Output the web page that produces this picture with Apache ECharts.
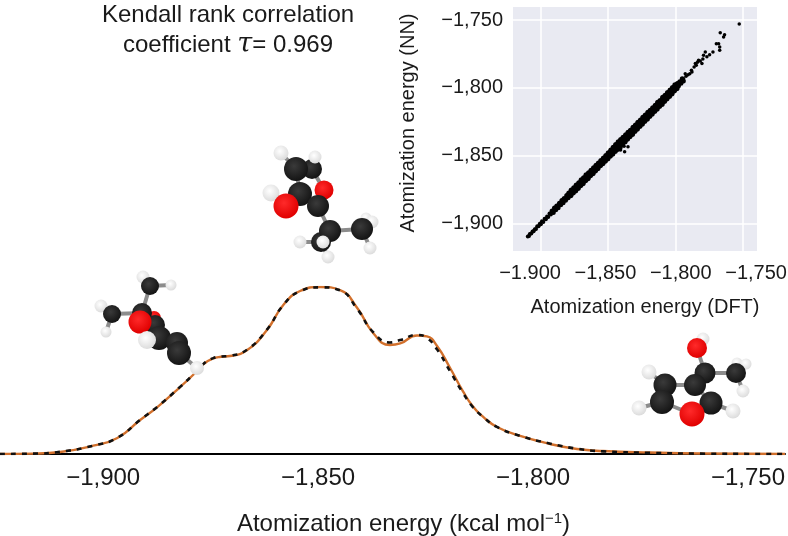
<!DOCTYPE html>
<html>
<head>
<meta charset="utf-8">
<style>html,body{margin:0;padding:0;background:#fff}#c{width:788px;height:536px}</style>
<script src="https://cdn.jsdelivr.net/npm/echarts@6/dist/echarts.min.js"></script>
</head>
<body>
<div id="c"></div>
<script>
// Density curves: x in kcal/mol, y as fraction of the peak
var dftCurve = [[-1924,0],[-1916.3,0.002],[-1910,0.012],[-1902.3,0.05],[-1896.7,0.096],[-1891.4,0.204],[-1887.4,0.281],[-1882.1,0.401],[-1879.1,0.473],[-1876.5,0.542],[-1874.4,0.572],[-1872.6,0.582],[-1870.5,0.587],[-1866.5,0.623],[-1861.9,0.743],[-1858.1,0.892],[-1854.2,0.976],[-1849.5,1.0],[-1844.9,0.982],[-1840.9,0.874],[-1837.2,0.725],[-1833.3,0.653],[-1830.9,0.662],[-1827,0.71],[-1824.7,0.704],[-1822.3,0.645],[-1819.3,0.515],[-1816.3,0.375],[-1814,0.285],[-1811.6,0.222],[-1808.4,0.162],[-1803,0.108],[-1796,0.06],[-1789.8,0.03],[-1783.7,0.018],[-1772.8,0.009],[-1761,0.003],[-1741.4,0]];
var nnCurve = [[-1924,0],[-1916.3,0.002],[-1910,0.013],[-1902.3,0.05],[-1896.7,0.097],[-1891.4,0.204],[-1887.4,0.283],[-1882.1,0.402],[-1879.1,0.475],[-1876.5,0.544],[-1874.4,0.574],[-1872.6,0.583],[-1870.5,0.588],[-1866.5,0.625],[-1861.9,0.745],[-1858.1,0.892],[-1854.2,0.975],[-1849.5,0.998],[-1844.9,0.98],[-1840.9,0.868],[-1837.2,0.73],[-1833.3,0.668],[-1830.9,0.682],[-1827,0.713],[-1824.7,0.695],[-1822.3,0.625],[-1819.3,0.495],[-1816.3,0.365],[-1814,0.281],[-1811.6,0.222],[-1808.4,0.162],[-1803,0.108],[-1796,0.062],[-1789.8,0.032],[-1783.7,0.016],[-1772.8,0.007],[-1761,0.002],[-1741.4,0]];

var mainTicks = [-1900,-1850,-1800,-1750];
var insetTicks = [-1900,-1850,-1800,-1750];
var insetXLabels = {'-1900':'\u22121.900','-1850':'\u22121,850','-1800':'\u22121,800','-1750':'\u22121,750'};

// Inset scatter, DFT vs NN atomization energy
var bandTail = [[-1909.5,-1909.6],[-1908,-1907.6],[-1906,-1905.8],[-1904.3,-1904.1],[-1902.5,-1902],[-1900.6,-1900.1],[-1899,-1898.2],[-1897,-1896.5],[-1895.2,-1894.7],[-1893.4,-1892.6],[-1908.6,-1909.2],[-1906.9,-1907.3],[-1905.2,-1905.6],[-1903.4,-1903.9],[-1901.5,-1902],[-1899.8,-1900.4],[-1898,-1898.8],[-1896.1,-1896.8],[-1894.3,-1895.1],[-1892.4,-1893.3]];
var bandMid = [[-1891.5,-1890.8],[-1889.7,-1888.6],[-1888,-1887.1],[-1886,-1885],[-1884.2,-1883],[-1882.5,-1881.6],[-1880.6,-1879.3],[-1890.6,-1891.8],[-1888.8,-1889.8],[-1887,-1888.4],[-1885.1,-1886.1],[-1883.3,-1884.6],[-1881.5,-1882.8],[-1879.6,-1880.9],[-1798.4,-1796.8],[-1796.6,-1795.4],[-1794.8,-1793.2],[-1797.6,-1798.4],[-1795.8,-1796.6],[-1794,-1795]];
var bandUpper = [[-1878.8,-1877.8],[-1877,-1875.6],[-1875.1,-1874],[-1873.3,-1872],[-1871.4,-1870.3],[-1869.6,-1868.1],[-1867.8,-1866.6],[-1866,-1864.4],[-1864.1,-1862.9],[-1862.3,-1861],[-1860.4,-1859.2],[-1858.6,-1857.3],[-1856.8,-1855.8],[-1855,-1853.9],[-1853.1,-1852],[-1851.3,-1850.2],[-1849.5,-1848.2],[-1847.6,-1846.2],[-1845.8,-1844.2],[-1844,-1842.1],[-1842.1,-1840.1],[-1840.3,-1838.4],[-1838.5,-1836.8],[-1836.6,-1834.9],[-1834.8,-1833],[-1833,-1831.5],[-1831.1,-1829.3],[-1829.3,-1827.7],[-1827.5,-1825.7],[-1825.6,-1824],[-1823.8,-1822],[-1822,-1820.3],[-1820.1,-1818.4],[-1818.3,-1816.9],[-1816.5,-1815],[-1814.6,-1813.2],[-1812.8,-1811],[-1811,-1809.6],[-1809.1,-1807.3],[-1807.3,-1805.8],[-1805.5,-1803.7],[-1803.6,-1802],[-1801.8,-1800],[-1800,-1798]];
var bandLower = [[-1877.8,-1879.2],[-1876,-1877.1],[-1874.2,-1875.6],[-1872.3,-1873.7],[-1870.5,-1871.7],[-1868.7,-1870.2],[-1866.8,-1868],[-1865,-1866.5],[-1863.2,-1864.4],[-1861.3,-1862.9],[-1859.5,-1860.8],[-1857.7,-1859.2],[-1855.8,-1857.1],[-1854,-1855.6],[-1852.2,-1853.7],[-1850.3,-1852.1],[-1848.5,-1850],[-1846.7,-1848.5],[-1844.8,-1846.6],[-1843,-1845.1],[-1841.2,-1843.6],[-1839.4,-1841.4],[-1837.5,-1839.6],[-1835.7,-1837.4],[-1833.9,-1835.6],[-1832,-1833.9],[-1830.2,-1831.8],[-1828.4,-1830.2],[-1826.5,-1828.1],[-1824.7,-1826.5],[-1822.9,-1824.4],[-1821,-1822.8],[-1819.2,-1820.8],[-1817.4,-1819.1],[-1815.5,-1817.1],[-1813.7,-1815.4],[-1811.9,-1813.4],[-1810,-1811.8],[-1808.2,-1809.6],[-1806.4,-1807.9],[-1804.5,-1805.9],[-1802.7,-1804.2],[-1800.9,-1802],[-1799,-1800.2]];
var sparsePoints = [[-1837.6,-1847],[-1835.1,-1843.4],[-1840.6,-1845.8],[-1838,-1843],[-1793.8,-1793.2],[-1792.6,-1789.5],[-1792,-1791.4],[-1790.5,-1790.4],[-1789.2,-1789.6],[-1788,-1787],[-1787.6,-1788.3],[-1786,-1784.6],[-1785.1,-1782],[-1784.4,-1783.4],[-1783.5,-1781.2],[-1782.7,-1779.7],[-1781.4,-1780.2],[-1780.2,-1782],[-1779.5,-1778.8],[-1779,-1776],[-1777.7,-1773.6],[-1776.5,-1777],[-1774.5,-1775.5],[-1772,-1773.6],[-1769.5,-1767.4],[-1767.8,-1767.4],[-1767,-1769.9],[-1767,-1772.3],[-1764.1,-1762.5],[-1763.4,-1760.8],[-1766.6,-1759.3],[-1752.5,-1753]];

// Molecules, on a full-page scale: [x, y, radius, element], listed back to front
var moleculeTop = [[312,169,10,'C'],[296,169,12,'C'],[281,153,7.5,'H'],[315,157,6.5,'H'],[324,190,9.5,'O'],[271,193,8.5,'H'],[300,194,12,'C'],[286,206,12.5,'O'],[318,206,11,'C'],[366,218,5.5,'H'],[372,222,6.5,'H'],[362,229,11,'C'],[370,248,6.5,'H'],[321,242,10,'C'],[330,231,11,'C'],[300,242,6.5,'H'],[328,257,6.5,'H'],[323,242,6.5,'H']];
var bondsTop = [[296,169,312,169],[312,169,324,190],[296,169,300,194],[324,190,318,206],[300,194,318,206],[300,194,286,206],[281,153,296,169],[315,157,312,169],[271,193,286,206],[318,206,330,231],[330,231,362,229],[330,231,321,242],[362,229,372,222],[362,229,370,248],[321,242,300,242],[321,242,328,257]];
var moleculeLeft = [[154,318,7,'O'],[143,277,6.5,'H'],[171,285,5.5,'H'],[150,286,9,'C'],[101,306,6.5,'H'],[106,332,5.5,'H'],[112,314,9,'C'],[142,313,10,'C'],[155,325,10,'C'],[140,322,11.5,'O'],[159,338,12,'C'],[147,340,9,'H'],[197,368,7,'H'],[177,343,11,'C'],[179,353,12,'C']];
var bondsLeft = [[150,286,142,313],[112,314,142,313],[150,286,143,277],[150,286,171,285],[112,314,101,306],[112,314,106,332],[155,325,159,338],[159,338,177,343],[179,353,197,368],[140,322,147,340]];
var moleculeRight = [[703,339,6.5,'H'],[737,363,5.5,'H'],[746,364,5.5,'H'],[736,373,10,'C'],[743,391,6.5,'H'],[697,348,10,'O'],[705,373,10.5,'C'],[649,372,7.5,'H'],[639,408,7.5,'H'],[733,411,7.5,'H'],[665,385,11.5,'C'],[662,402,12,'C'],[695,385,11,'C'],[711,403,11.5,'C'],[692,414,12.5,'O']];
var bondsRight = [[703,339,697,348],[697,348,705,373],[705,373,736,373],[736,373,746,364],[736,373,737,363],[736,373,743,391],[705,373,695,385],[695,385,665,385],[665,385,662,402],[665,385,649,372],[662,402,639,408],[662,402,692,414],[692,414,711,403],[711,403,695,385],[711,403,733,411]];

var FONT = '"Liberation Sans", Arial, sans-serif';
var atomColors = {C:['#3a3a3a','#141414'],O:['#ff2a2a','#e00000'],H:['#ffffff','#dcdcdc']};
function atomFill(el){
  return {type:'radial',x:0.42,y:0.38,r:0.62,colorStops:[{offset:0,color:atomColors[el][0]},{offset:1,color:atomColors[el][1]}]};
}
function fmt(v){
  var a = Math.abs(v);
  return '\u2212' + Math.floor(a/1000) + ',' + String(a%1000).padStart(3,'0');
}
function atomSeries(data){
  return {type:'scatter',xAxisIndex:2,yAxisIndex:2,silent:true,z:6,animation:false,data:data,
    symbolSize:function(d){return d[2]*2;},
    itemStyle:{opacity:1,color:function(p){return atomFill(p.data[3]);}}};
}
function bondSeries(data){
  return {type:'custom',xAxisIndex:2,yAxisIndex:2,silent:true,z:5,animation:false,data:data,
    renderItem:function(params,api){
      var a = api.coord([api.value(0),api.value(1)]), b = api.coord([api.value(2),api.value(3)]);
      return {type:'line',shape:{x1:a[0],y1:a[1],x2:b[0],y2:b[1]},style:{stroke:'#8c8c8c',lineWidth:4}};
    }};
}
function bandSeries(data,size){
  return {type:'scatter',xAxisIndex:1,yAxisIndex:1,data:data,symbolSize:size,silent:true,z:3,itemStyle:{color:'#000',opacity:1}};
}

var chart = echarts.init(document.getElementById('c'),null,{renderer:'canvas'});
chart.setOption({
  animation:false,
  backgroundColor:'#ffffff',
  textStyle:{fontFamily:FONT},
  title:{
    left:223,top:-5,textAlign:'center',
    text:'{a|Kendall rank correlation}\n{a|coefficient }{t|\u03C4}{a|= 0.969}',
    textStyle:{fontWeight:'normal',rich:{
      a:{fontFamily:FONT,fontWeight:'normal',fontSize:24,color:'#1a1a1a',lineHeight:30},
      t:{fontFamily:'"DejaVu Serif"',fontWeight:'normal',fontStyle:'italic',fontSize:27,color:'#1a1a1a',lineHeight:30}
    }}
  },
  grid:[
    {left:0,right:3,top:287,height:167,outerBoundsMode:'none'},
    {left:513,top:7,width:244,height:244,show:true,backgroundColor:'#e9eaf2',borderWidth:0,outerBoundsMode:'none'},
    {left:0,top:0,width:788,height:536,outerBoundsMode:'none'}
  ],
  xAxis:[
    {type:'value',gridIndex:0,min:-1924,max:-1741.4,
      axisLine:{show:true,onZero:false,lineStyle:{color:'#000',width:2}},
      axisTick:{show:false,customValues:mainTicks},splitLine:{show:false},
      axisLabel:{customValues:mainTicks,formatter:fmt,fontFamily:FONT,fontSize:24,color:'#1a1a1a',margin:12},
      name:'{a|Atomization energy (kcal mol}{s|\u22121}{a|)}',nameLocation:'middle',nameGap:57,
      nameTextStyle:{padding:[0,0,0,22],rich:{
        a:{fontFamily:FONT,fontSize:24,color:'#1a1a1a',lineHeight:26},
        s:{fontFamily:FONT,fontSize:15,color:'#1a1a1a',verticalAlign:'top',lineHeight:26}
      }}},
    {type:'value',gridIndex:1,min:-1920.5,max:-1739.3,
      axisLine:{show:false},
      axisTick:{show:false,customValues:insetTicks},
      splitLine:{show:true,lineStyle:{color:'#ffffff',width:1.5}},
      axisLabel:{show:false},
      name:'Atomization energy (DFT)',nameLocation:'middle',nameGap:46,
      nameTextStyle:{fontFamily:FONT,fontSize:20,color:'#1a1a1a',padding:[0,0,0,20]}},
    {type:'value',gridIndex:2,min:0,max:788,show:false},
    {type:'value',gridIndex:1,position:'bottom',min:-1911.3,max:-1749.4,
      axisLine:{show:false},axisTick:{show:false,customValues:insetTicks},splitLine:{show:false},
      axisLabel:{customValues:insetTicks,formatter:function(v){return insetXLabels[String(v)];},fontFamily:FONT,fontSize:20,color:'#1a1a1a',margin:12,hideOverlap:false}}
  ],
  yAxis:[
    {type:'value',gridIndex:0,min:0,max:1,show:false},
    {type:'value',gridIndex:1,min:-1920.2,max:-1740.4,
      axisLine:{show:false},
      axisTick:{show:false,customValues:insetTicks},
      splitLine:{show:true,lineStyle:{color:'#ffffff',width:1.5}},
      axisLabel:{customValues:insetTicks,formatter:fmt,fontFamily:FONT,fontSize:20,color:'#1a1a1a',margin:10,padding:[6,0,0,0]},
      name:'Atomization energy (NN)',nameLocation:'middle',nameGap:95,
      nameTextStyle:{fontFamily:FONT,fontSize:20,color:'#1a1a1a',padding:[0,0,0,12]}},
    {type:'value',gridIndex:2,min:0,max:536,inverse:true,show:false}
  ],
  series:[
    {type:'line',xAxisIndex:0,yAxisIndex:0,data:dftCurve,smooth:0.5,showSymbol:false,silent:true,z:3,
      lineStyle:{color:'#d2702c',width:2.4}},
    {type:'line',xAxisIndex:0,yAxisIndex:0,data:nnCurve,smooth:0.5,showSymbol:false,silent:true,z:4,
      lineStyle:{color:'#111',width:2.6,type:[5,6]}},
    bandSeries(bandTail,4),bandSeries(bandMid,5),bandSeries(bandUpper,6),bandSeries(bandLower,6),bandSeries(sparsePoints,3.5),
    bondSeries(bondsTop),bondSeries(bondsLeft),bondSeries(bondsRight),
    atomSeries(moleculeTop),atomSeries(moleculeLeft),atomSeries(moleculeRight)
  ]
});
</script>
</body>
</html>
